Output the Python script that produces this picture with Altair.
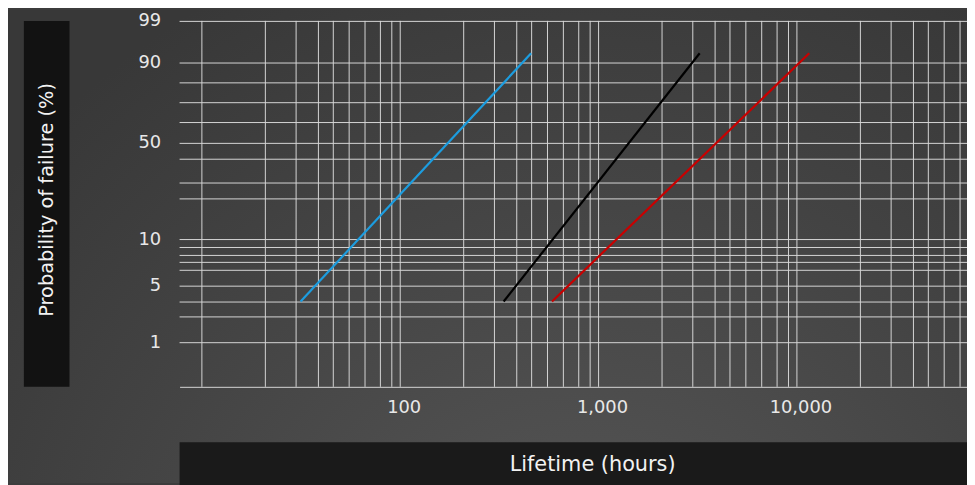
import altair as alt
import pandas as pd

# ---- data ----
series = ["Series A", "Series B", "Series C"]
t_start = [32, 340, 630]          # hours
t_end = [500, 3300, 11500]        # hours
p_start = [4, 4, 4]               # % failure
p_end = [92, 92, 92]              # % failure
colors = ["#1c9de0", "#000000", "#c80000"]

# grid / tick values
y_grid = [1, 3, 4, 5, 6, 7, 8, 9, 10, 20, 30, 40, 50, 60, 70, 80, 90, 99]
y_labels = [1, 5, 10, 50, 90, 99]
x_grid = [10, 20, 30, 40, 50, 60, 70, 80, 90,
          100, 200, 300, 400, 500, 600, 700, 800, 900,
          1000, 2000, 3000, 4000, 5000, 6000, 7000, 8000, 9000,
          10000, 20000, 30000, 40000, 50000, 60000, 70000]
x_labels = [100, 1000, 10000]

# ---- layout (paper-grid scale, as drawn on the reference) ----
W, H = 794, 369
decade_px = 200
decade_offsets = [0, 64, 95, 117.5, 132.5, 148.5, 164.5, 180, 191.5]
x_dom = [7.8] + x_grid + [75000]
x_rng = [0] + [22 + decade_px * (len(str(int(v))) - 2) + decade_offsets[int(str(int(v))[0]) - 1]
               for v in x_grid] + [W]
y_dom = [0.1] + y_grid
y_rng = [H, 324, 298, 283, 267, 251, 243, 236, 228, 220, 179, 163, 139, 123, 102, 82, 62, 42, 0]

FONT = "DejaVu Sans"
TXT = "#e8e8e8"
GRID = "#d6d6d6"

x_scale = alt.Scale(type="log", domain=x_dom, range=x_rng, nice=False, zero=False)
y_scale = alt.Scale(type="linear", domain=y_dom, range=y_rng, nice=False, zero=False)

x_label_expr = "indexof([" + ",".join(str(v) for v in x_labels) + "], datum.value) >= 0 ? format(datum.value, ',') : ''"
y_label_expr = "indexof([" + ",".join(str(v) for v in y_labels) + "], datum.value) >= 0 ? format(datum.value, 'd') : ''"

x_axis = alt.Axis(values=x_grid, labelExpr=x_label_expr, grid=False, ticks=False,
                  domain=True, domainColor=GRID, domainWidth=1,
                  labelColor=TXT, labelFont=FONT, labelFontSize=18, labelPadding=12,
                  labelOffset=4, labelOverlap=False, labelFlush=False, labelBound=False,
                  title="Lifetime (hours)", titleColor="#f2f2f2", titleFont=FONT,
                  titleFontSize=21, titleFontWeight="normal", titleX=416, titleY=78,
                  titleBaseline="middle", titleAlign="center", zindex=1)
y_axis = alt.Axis(values=y_grid, labelExpr=y_label_expr, grid=False, ticks=False,
                  domain=False, labelColor=TXT, labelFont=FONT, labelFontSize=18,
                  labelPadding=19, labelOverlap=False, labelFlush=False, labelBound=False,
                  title="Probability of failure (%)", titleColor="#f2f2f2", titleFont=FONT,
                  titleFontSize=19.5, titleFontWeight="normal", titleX=-134, titleY=180,
                  titleAngle=270, titleBaseline="middle", titleAlign="center", zindex=1)

X = alt.X("t:Q", scale=x_scale, axis=x_axis)
Y = alt.Y("p:Q", scale=y_scale, axis=y_axis)

one = pd.DataFrame({"k": [0]})

bg = alt.Chart(one).mark_rect(
    fill={"gradient": "radial",
          "stops": [{"offset": 0, "color": "#585858"},
                    {"offset": 1, "color": "#383838"}],
          "x1": 0.6, "y1": 0.92, "r1": 0, "x2": 0.6, "y2": 0.92, "r2": 0.78}
).encode(x=alt.value(-173), x2=alt.value(W), y=alt.value(-11), y2=alt.value(466))

ybox = alt.Chart(one).mark_rect(fill="#121212").encode(
    x=alt.value(-157), x2=alt.value(-111), y=alt.value(0), y2=alt.value(H))
xbox = alt.Chart(one).mark_rect(fill="#1a1a1a").encode(
    x=alt.value(0), x2=alt.value(W), y=alt.value(425), y2=alt.value(470))

vgrid = alt.Chart(pd.DataFrame({"t": x_grid})).mark_rule(
    color=GRID, strokeWidth=1, xOffset=0.5).encode(x=X)
hgrid = alt.Chart(pd.DataFrame({"p": y_grid})).mark_rule(
    color=GRID, strokeWidth=1, yOffset=0.5).encode(y=Y)

rows = []
for s, t0, t1, p0, p1 in zip(series, t_start, t_end, p_start, p_end):
    rows.append({"series": s, "t": t0, "p": p0})
    rows.append({"series": s, "t": t1, "p": p1})
lines_df = pd.DataFrame(rows)

lines = alt.Chart(lines_df).mark_line(strokeWidth=2.2).encode(
    x=X, y=Y,
    color=alt.Color("series:N", scale=alt.Scale(domain=series, range=colors), legend=None),
)

chart = alt.layer(bg, ybox, xbox, vgrid, hgrid, lines).properties(
    width=W, height=H,
    autosize=alt.AutoSizeParams(type="none"),
    padding={"left": 173, "top": 11, "right": 0, "bottom": 97},
).configure_view(stroke=None).configure(background="#3c3c3c")

chart.save("out.html", embed_options={"renderer": "svg", "actions": False})
